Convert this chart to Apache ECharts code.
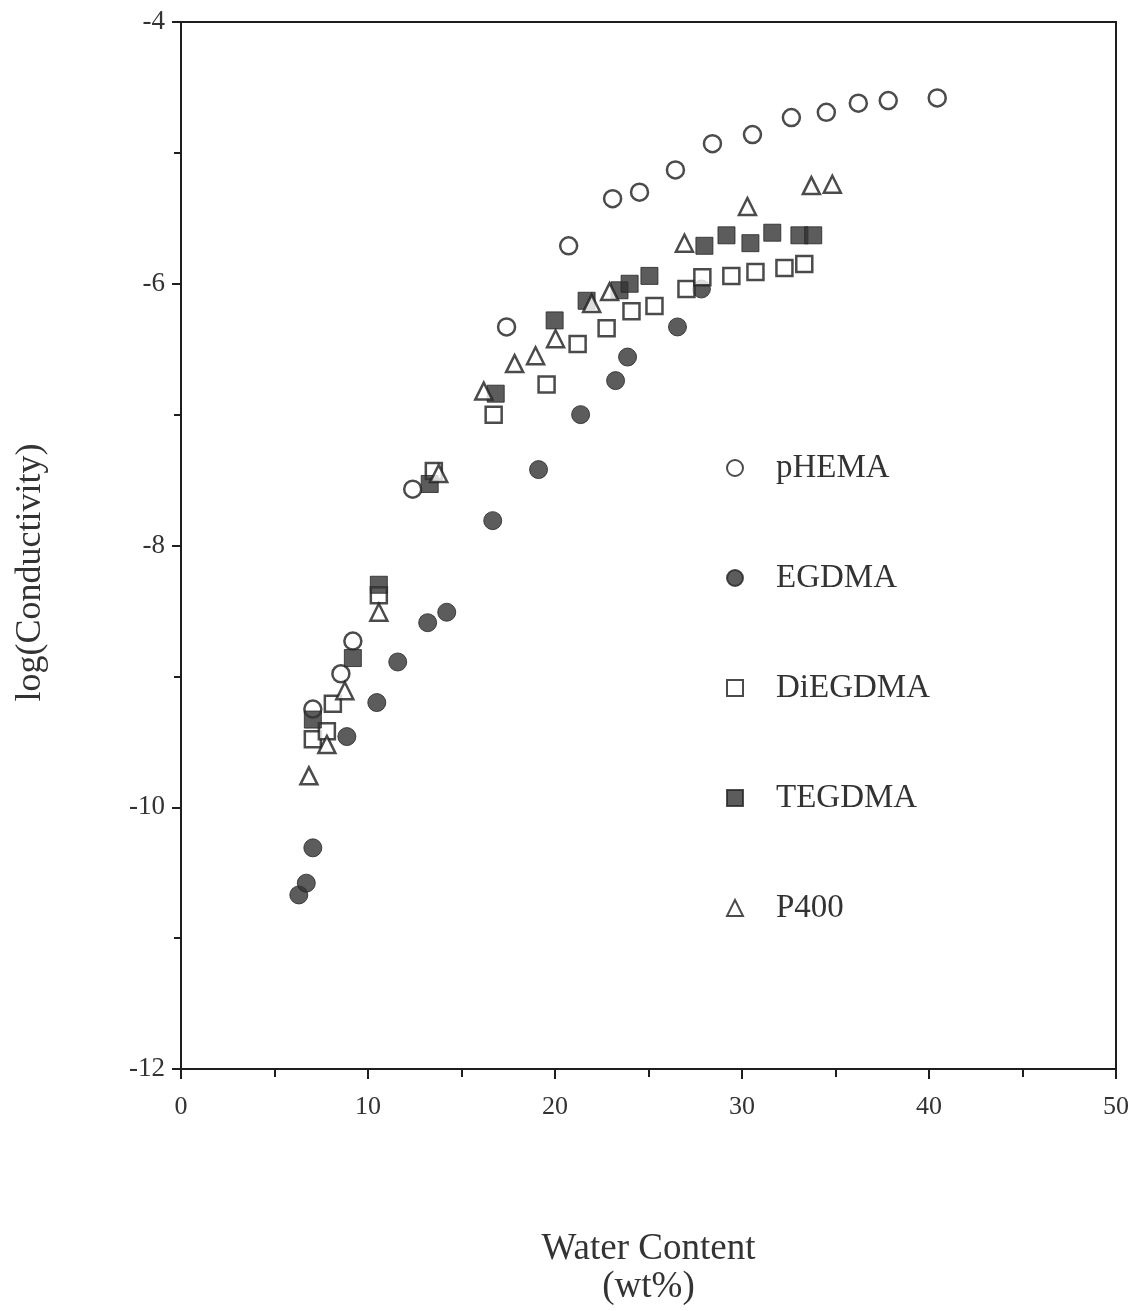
<!DOCTYPE html>
<html>
<head>
<meta charset="utf-8">
<title>log(Conductivity) vs Water Content</title>
<script src="https://cdn.jsdelivr.net/npm/echarts@6/dist/echarts.min.js"></script>
<style>
  html, body { margin: 0; padding: 0; background: #fff; overflow: hidden; width: 1132px; height: 1311px; }
  #chart { display: block; width: 1132px; height: 1311px; }
</style>
</head>
<body>
<div id="chart"></div>
<script>
// Water content (wt%) and log(conductivity) for each hydrogel composition
const pHEMA_x = [7.05, 8.55, 9.19, 12.39, 17.41, 20.73, 23.08, 24.52, 26.44, 28.42, 30.56, 32.64, 34.51, 36.22, 37.82, 40.44];
const pHEMA_y = [-9.25, -8.98, -8.73, -7.57, -6.33, -5.71, -5.35, -5.30, -5.13, -4.93, -4.86, -4.73, -4.69, -4.62, -4.60, -4.58];

const EGDMA_x = [6.30, 6.70, 7.05, 8.87, 10.47, 11.59, 13.19, 14.21, 16.67, 19.12, 21.37, 23.24, 23.88, 26.55, 27.83];
const EGDMA_y = [-10.67, -10.58, -10.31, -9.46, -9.20, -8.89, -8.59, -8.51, -7.81, -7.42, -7.00, -6.74, -6.56, -6.33, -6.04];

const DiEGDMA_x = [7.05, 7.80, 8.12, 10.58, 13.52, 16.72, 19.55, 21.21, 22.76, 24.09, 25.32, 27.03, 27.88, 29.43, 30.72, 32.27, 33.33];
const DiEGDMA_y = [-9.48, -9.42, -9.21, -8.38, -7.43, -7.00, -6.77, -6.46, -6.34, -6.21, -6.17, -6.04, -5.95, -5.94, -5.91, -5.88, -5.85];

const TEGDMA_x = [7.05, 9.19, 10.58, 13.30, 16.83, 19.98, 21.69, 23.45, 23.99, 25.05, 27.99, 29.17, 30.45, 31.62, 33.07, 33.81];
const TEGDMA_y = [-9.33, -8.86, -8.30, -7.53, -6.84, -6.28, -6.13, -6.05, -6.00, -5.94, -5.71, -5.63, -5.69, -5.61, -5.63, -5.63];

const P400_x = [6.84, 7.80, 8.76, 10.58, 13.78, 16.19, 17.84, 18.96, 20.03, 21.96, 22.92, 26.92, 30.29, 33.71, 34.83];
const P400_y = [-9.76, -9.52, -9.11, -8.51, -7.45, -6.82, -6.61, -6.55, -6.42, -6.15, -6.06, -5.69, -5.41, -5.25, -5.24];

const legendOrder = ['pHEMA', 'EGDMA', 'DiEGDMA', 'TEGDMA', 'P400'];

const pairs = (xs, ys) => xs.map((x, i) => [x, ys[i]]);

const FONT = '"Liberation Serif", "DejaVu Serif", serif';
const INK = '#1e1e1e';
const FILL = '#333';

const openStyle = { color: '#fff', borderColor: INK, borderWidth: 2.5 };
const solidStyle = { color: FILL, borderColor: '#262626', borderWidth: 1 };

const chart = echarts.init(document.getElementById('chart'), null, { renderer: 'canvas', width: 1132, height: 1311 });

chart.setOption({
  backgroundColor: '#fff',
  animation: false,
  textStyle: { fontFamily: FONT, color: INK },
  grid: { left: 181, top: 22, width: 935, height: 1055, show: true, borderColor: INK, borderWidth: 2, backgroundColor: 'transparent' },
  legend: {
    data: legendOrder,
    orient: 'vertical',
    left: 721,
    top: 443,
    itemWidth: 16,
    itemHeight: 16,
    itemGap: 70,
    selectedMode: false,
    textStyle: { fontFamily: FONT, fontSize: 33, color: '#333', lineHeight: 40, padding: [0, 0, 0, 28] }
  },
  xAxis: {
    type: 'value',
    min: 0, max: 50, interval: 10,
    name: 'Water Content\n(wt%)',
    nameLocation: 'middle',
    nameGap: 161,
    nameTextStyle: { fontFamily: FONT, fontSize: 37, color: '#333', lineHeight: 38, verticalAlign: 'top' },
    axisLine: { lineStyle: { color: INK, width: 2 } },
    axisTick: { inside: false, length: 10, lineStyle: { color: INK, width: 2 } },
    minorTick: { show: true, splitNumber: 2, length: 8, lineStyle: { color: INK, width: 2 } },
    splitLine: { show: false },
    axisLabel: { fontFamily: FONT, fontSize: 26, color: '#333', margin: 25 }
  },
  yAxis: {
    type: 'value',
    min: -12, max: -4, interval: 2,
    name: 'log(Conductivity)',
    nameLocation: 'middle',
    nameGap: 132,
    nameRotate: 90,
    nameTextStyle: { fontFamily: FONT, fontSize: 36, color: '#333', padding: [0, 54, 0, 0] },
    axisLine: { lineStyle: { color: INK, width: 2 } },
    axisTick: { inside: false, length: 9, lineStyle: { color: INK, width: 2 } },
    minorTick: { show: true, splitNumber: 2, length: 7, lineStyle: { color: INK, width: 2 } },
    splitLine: { show: false },
    axisLabel: { fontFamily: FONT, fontSize: 27, color: '#333', margin: 16 }
  },
  series: [
    { name: 'EGDMA', type: 'scatter', z: 2, symbol: 'circle', symbolSize: 18,
      itemStyle: solidStyle, data: pairs(EGDMA_x, EGDMA_y) },
    { name: 'pHEMA', type: 'scatter', z: 3, symbol: 'circle', symbolSize: 17,
      itemStyle: openStyle, data: pairs(pHEMA_x, pHEMA_y) },
    { name: 'DiEGDMA', type: 'scatter', z: 4, symbol: 'rect', symbolSize: 16,
      itemStyle: openStyle, data: pairs(DiEGDMA_x, DiEGDMA_y) },
    { name: 'TEGDMA', type: 'scatter', z: 5, symbol: 'rect', symbolSize: 17,
      itemStyle: solidStyle, data: pairs(TEGDMA_x, TEGDMA_y) },
    { name: 'P400', type: 'scatter', z: 6, symbol: 'triangle', symbolSize: 17,
      itemStyle: openStyle, data: pairs(P400_x, P400_y) }
  ]
});
</script>
</body>
</html>
